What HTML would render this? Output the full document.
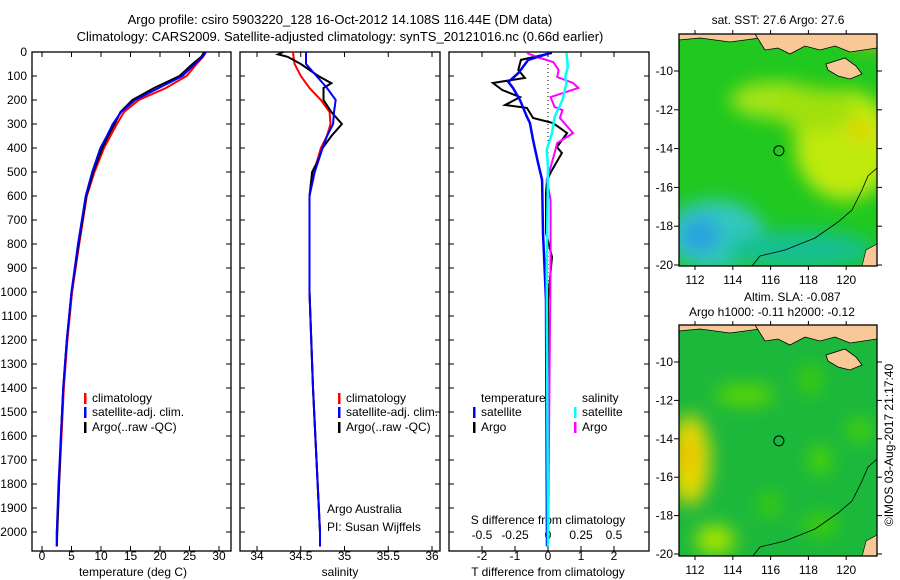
<!DOCTYPE html>
<html><head><meta charset="utf-8"><style>
body{margin:0;background:#fff;}
svg{display:block;font-family:"Liberation Sans",sans-serif;}
text{font-size:12px;fill:#000;}
</style></head><body>
<svg id="chart" width="900" height="580" viewBox="0 0 900 580">
<defs>
<filter id="blur1" x="-50%" y="-50%" width="200%" height="200%"><feGaussianBlur stdDeviation="9"/></filter>
<clipPath id="clipM1"><rect x="679" y="34" width="198" height="232"/></clipPath>
<clipPath id="clipM2"><rect x="679" y="325" width="198" height="231"/></clipPath>
</defs>
<text x="340" y="24" text-anchor="middle" style="font-size:13px">Argo profile: csiro 5903220_128 16-Oct-2012 14.108S 116.44E (DM data)</text>
<text x="340" y="41" text-anchor="middle" style="font-size:13px">Climatology: CARS2009. Satellite-adjusted climatology: synTS_20121016.nc (0.66d earlier)</text>
<g id="g1"></g>
<g id="g2"></g>
<g id="g3"></g>
<g id="map1"></g>
<g id="map2"></g>
<text transform="translate(893,445) rotate(-90)" text-anchor="middle">©IMOS 03-Aug-2017 21:17:40</text>
</svg>
<script>
const NS="http://www.w3.org/2000/svg";
// ---- data ----
const tDepth=[0,20,50,100,150,200,250,300,350,400,500,600,800,1000,1200,1400,1600,1800,2000,2060];
const tempArgo=[27.5,27,25.5,23.3,19,15.3,13.3,12.3,11.2,10.2,8.7,7.5,6.2,5.0,4.2,3.6,3.2,2.9,2.6,2.5];
const tempClim=[27.8,27.3,26.2,24.5,21,16.4,13.9,12.7,11.6,10.5,8.9,7.6,6.3,5.1,4.3,3.7,3.3,2.9,2.5,2.5];
const tempSat=[27.8,27.2,25.9,23.8,19.8,15.8,13.4,12.0,11.0,9.9,8.5,7.4,6.1,5.0,4.2,3.6,3.2,2.8,2.5,2.5];
const sDepthA=[0,10,20,50,100,130,150,200,250,300,350,400,450,500,600,1000,1400,2000,2060];
const salArgo=[34.3,34.24,34.35,34.5,34.7,34.85,34.76,34.76,34.85,34.97,34.85,34.75,34.7,34.63,34.6,34.6,34.64,34.72,34.72];
const sDepthC=[0,50,100,150,200,250,300,350,400,500,600,1000,1400,2000,2060];
const salClim=[34.41,34.43,34.5,34.6,34.73,34.83,34.84,34.8,34.73,34.65,34.6,34.6,34.64,34.72,34.72];
const salSat=[34.56,34.56,34.68,34.8,34.9,34.88,34.87,34.8,34.75,34.66,34.6,34.6,34.64,34.72,34.72];
const dtDepthA=[4,33,75,108,129,158,188,221,233,275,296,338,396,421,492,533,588,754,854,1033,2060];
const dTArgo=[0.12,-0.82,-0.9,-0.7,-1.67,-1.39,-0.85,-1.3,-0.64,-0.45,0.15,0.58,0.27,0.42,0.12,-0.03,-0.06,-0.06,0.12,0,0];
const dtDepthS=[4,33,88,125,150,200,270,296,367,463,533,754,1033,2060];
const dTSat=[0.06,-0.6,-0.9,-1.2,-1.06,-0.85,-0.64,-0.55,-0.45,-0.3,-0.18,-0.15,-0.06,-0.03];
const dsDepthA=[4,25,42,75,104,129,150,188,229,242,275,338,379,421,480,533,617,854,2060];
const dSArgo=[-0.16,-0.06,0.04,0.08,0.07,0.19,0.23,0.02,0.05,0.11,0.09,0.19,0.07,0.05,0.02,-0.01,0.02,0.02,0.0];
const dsDepthS=[4,63,104,129,200,271,338,408,479,900,2060];
const dSSat=[0.14,0.15,0.13,0.14,0.11,0.05,0.03,-0.01,0,-0.01,0];
const depthTicks=[0,100,200,300,400,500,600,700,800,900,1000,1100,1200,1300,1400,1500,1600,1700,1800,1900,2000];
const tempTicks=[0,5,10,15,20,25,30];
const salTicks=[34,34.5,35,35.5,36];
const dTTicks=[-2,-1,0,1,2];
const dSTicks=[-0.5,-0.25,0,0.25,0.5];
const dSTickLabels=["-0.5","-0.25","0","0.25","0.5"];
// ---- helpers ----
function el(p,tag,at,txt){const e=document.createElementNS(NS,tag);for(const k in at)e.setAttribute(k,at[k]);if(txt!==undefined)e.textContent=txt;p.appendChild(e);return e;}
const yD=d=>52+0.24*d;
const xT=v=>42+5.9*v;
const xS=v=>257+87.5*(v-34);
const xDT=v=>548+33*v;
const xDS=v=>548+132*v;
function frame(g,x0,x1){
  const r=el(g,'rect',{x:x0,y:52,width:x1-x0,height:499,fill:'none',stroke:'#000','stroke-width':1.3});
  
  
  depthTicks.forEach(d=>{el(g,'line',{x1:x0,x2:x0+5,y1:yD(d),y2:yD(d),stroke:'#000'});el(g,'line',{x1:x1-5,x2:x1,y1:yD(d),y2:yD(d),stroke:'#000'});});
}
function xticks(g,ticks,fx,labels,y){ticks.forEach((v,i)=>{const x=fx(v);el(g,'line',{x1:x,x2:x,y1:551,y2:546,stroke:'#000'});el(g,'line',{x1:x,x2:x,y1:52,y2:57,stroke:'#000'});const t=el(g,'text',{x:x,y:y,'text-anchor':'middle'},labels?labels[i]:String(v));});}
function line(g,ds,vs,fx,col,name,w){const pts=ds.map((d,i)=>fx(vs[i]).toFixed(1)+','+yD(d).toFixed(1)).join(' ');const p=el(g,'polyline',{points:pts,fill:'none',stroke:col,'stroke-width':w||2});}
function legend(g,x,y,col,txt){el(g,'rect',{x:x,y:y-9,width:2.5,height:11,fill:col});const t=el(g,'text',{x:x+8,y:y},txt);}
// ---- panel 1 ----
const g1=document.getElementById('g1');
frame(g1,32,231);
depthTicks.forEach(d=>{const t=el(g1,'text',{x:27,y:yD(d)+4,'text-anchor':'end'},String(d));});
xticks(g1,tempTicks,xT,null,560);
let t=el(g1,'text',{x:133,y:576,'text-anchor':'middle'},'temperature (deg C)');
line(g1,tDepth,tempClim,xT,'#f00','temp-climatology-line');
line(g1,tDepth,tempArgo,xT,'#000','temp-argo-line');
line(g1,tDepth,tempSat,xT,'#00f','temp-satellite-line');
legend(g1,84,402,'#f00','climatology');legend(g1,84,416,'#00f','satellite-adj. clim.');legend(g1,84,431,'#000','Argo(..raw -QC)');
// ---- panel 2 ----
const g2=document.getElementById('g2');
frame(g2,240,440);
xticks(g2,salTicks,xS,null,560);
t=el(g2,'text',{x:340,y:576,'text-anchor':'middle'},'salinity');
line(g2,sDepthC,salClim,xS,'#f00','sal-climatology-line');
line(g2,sDepthA,salArgo,xS,'#000','sal-argo-line');
line(g2,sDepthC,salSat,xS,'#00f','sal-satellite-line');
legend(g2,338,402,'#f00','climatology');legend(g2,338,416,'#00f','satellite-adj. clim.');legend(g2,338,431,'#000','Argo(..raw -QC)');
t=el(g2,'text',{x:327,y:513},'Argo Australia');
t=el(g2,'text',{x:327,y:531},'PI: Susan Wijffels');
// ---- panel 3 ----
const g3=document.getElementById('g3');
frame(g3,449,649);
xticks(g3,dTTicks,xDT,null,560);
dSTicks.forEach((v,i)=>{const tt=el(g3,'text',{x:xDS(v),y:539,'text-anchor':'middle'},dSTickLabels[i]);});
t=el(g3,'text',{x:548,y:524,'text-anchor':'middle'},'S difference from climatology');
t=el(g3,'text',{x:548,y:576,'text-anchor':'middle'},'T difference from climatology');
el(g3,'line',{x1:548,x2:548,y1:52,y2:551,stroke:'#000','stroke-dasharray':'1,3'});
line(g3,dtDepthA,dTArgo,xDT,'#000','tdiff-argo-line');
line(g3,dsDepthA,dSArgo,xDS,'#f0f','sdiff-argo-line');
line(g3,dtDepthS,dTSat,xDT,'#00f','tdiff-satellite-line',2.5);
line(g3,dsDepthS,dSSat,xDS,'#0ff','sdiff-satellite-line',2.5);
t=el(g3,'text',{x:481,y:402},'temperature');
t=el(g3,'text',{x:582,y:402},'salinity');
legend(g3,473,416,'#00f','satellite');legend(g3,473,431,'#000','Argo');
legend(g3,574,416,'#0ff','satellite');legend(g3,574,431,'#f0f','Argo');
// ---- maps ----
const mapLon=[112,114,116,118,120];
const mapLat=[-10,-12,-14,-16,-18,-20];
function mapAxes(g,x0,y0,w,h,yLat10,pxLat){
  const xL=v=>695+18.9*(v-112);
  const yL=v=>yLat10+pxLat*(-10-v);
  el(g,'rect',{x:x0,y:y0,width:w,height:h,fill:'none',stroke:'#000','stroke-width':1.3});
  mapLon.forEach(v=>{const x=xL(v);el(g,'line',{x1:x,x2:x,y1:y0+h,y2:y0+h+4,stroke:'#000'});el(g,'line',{x1:x,x2:x,y1:y0,y2:y0-4,stroke:'#000'});const tt=el(g,'text',{x:x,y:y0+h+18,'text-anchor':'middle'},String(v));});
  mapLat.forEach(v=>{const y=yL(v);el(g,'line',{x1:x0,x2:x0-5,y1:y,y2:y,stroke:'#000'});el(g,'line',{x1:x0+w,x2:x0+w+5,y1:y,y2:y,stroke:'#000'});const tt=el(g,'text',{x:x0-6,y:y+4,'text-anchor':'end'},String(v));});
  const c=el(g,'circle',{cx:xL(116.44),cy:yL(-14.108),r:5,fill:'none',stroke:'#000'});
  
  
}
function land(g,dy){
  el(g,'path',{d:`M679 ${40+dy} L700 ${38+dy} L730 ${42+dy} L760 ${38+dy} L800 ${36+dy} L830 ${42+dy} L860 ${38+dy} L877 ${40+dy} L877 ${34+dy} L679 ${34+dy}Z`,fill:'#f8c898',stroke:'#000','stroke-width':0.8});
  el(g,'path',{d:`M755 ${34+dy} L765 ${50+dy} L778 ${48+dy} L790 ${54+dy} L805 ${46+dy} L820 ${50+dy} L835 ${46+dy} L850 ${52+dy} L877 ${48+dy} L877 ${34+dy}Z`,fill:'#f8c898',stroke:'#000','stroke-width':0.8});
  el(g,'path',{d:`M826 ${64+dy} L845 ${58+dy} L856 ${66+dy} L862 ${74+dy} L850 ${79+dy} L838 ${76+dy} L828 ${70+dy}Z`,fill:'#f8c898',stroke:'#000','stroke-width':0.8});
  el(g,'path',{d:`M877 ${244+dy} L866 ${250+dy} L862 ${266+dy} L877 ${266+dy}Z`,fill:'#f8c898',stroke:'#000','stroke-width':0.6});
  el(g,'path',{d:`M752 ${266+dy} L760 ${256+dy} L785 ${250+dy} L815 ${238+dy} L838 ${222+dy} L852 ${210+dy} L862 ${190+dy} L868 ${176+dy} L877 ${168+dy}`,fill:'none',stroke:'#000','stroke-width':0.8});
}
const m1=document.getElementById('map1');
const c1=el(m1,'g',{'clip-path':'url(#clipM1)'});
el(c1,'rect',{x:679,y:34,width:198,height:232,fill:'#20c820'});
const b1=el(c1,'g',{filter:'url(#blur1)'});
el(b1,'ellipse',{cx:845,cy:145,rx:50,ry:55,fill:'#c0ea10'});
el(b1,'ellipse',{cx:775,cy:100,rx:45,ry:18,fill:'#a8e418'});
el(b1,'ellipse',{cx:815,cy:110,rx:40,ry:22,fill:'#a0e010'});
el(b1,'ellipse',{cx:860,cy:130,rx:12,ry:10,fill:'#e8d000'});
el(b1,'ellipse',{cx:715,cy:235,rx:50,ry:35,fill:'#30c8c0'});
el(b1,'ellipse',{cx:700,cy:235,rx:20,ry:18,fill:'#2aa0e0'});
el(b1,'ellipse',{cx:800,cy:250,rx:75,ry:20,fill:'#18c090'});
el(b1,'ellipse',{cx:870,cy:38,rx:20,ry:8,fill:'#f0b000'});
land(c1,0);
mapAxes(m1,679,34,198,232,71,19.4);
t=el(m1,'text',{x:778,y:24,'text-anchor':'middle'},'sat. SST: 27.6 Argo: 27.6');
const m2=document.getElementById('map2');
const c2=el(m2,'g',{'clip-path':'url(#clipM2)'});
el(c2,'rect',{x:679,y:325,width:198,height:231,fill:'#1cb83c'});
const b2=el(c2,'g',{filter:'url(#blur1)'});
el(b2,'ellipse',{cx:690,cy:460,rx:20,ry:45,fill:'#e8d800'});
el(b2,'ellipse',{cx:685,cy:455,rx:8,ry:15,fill:'#f0b800'});
el(b2,'ellipse',{cx:745,cy:395,rx:30,ry:10,fill:'#60d800'});
el(b2,'ellipse',{cx:715,cy:540,rx:20,ry:15,fill:'#a8e400'});
el(b2,'ellipse',{cx:820,cy:460,rx:10,ry:15,fill:'#50d800'});
el(b2,'ellipse',{cx:860,cy:430,rx:12,ry:10,fill:'#50d800'});
el(b2,'ellipse',{cx:810,cy:380,rx:10,ry:15,fill:'#40d000'});
el(b2,'ellipse',{cx:770,cy:505,rx:10,ry:12,fill:'#40d000'});
el(b2,'ellipse',{cx:820,cy:525,rx:18,ry:10,fill:'#40d000'});
land(c2,291);
mapAxes(m2,679,325,198,231,362,19.2);
t=el(m2,'text',{x:744,y:301},'Altim. SLA: -0.087');
t=el(m2,'text',{x:689,y:316},'Argo h1000: -0.11 h2000: -0.12');
</script>
</body></html>
